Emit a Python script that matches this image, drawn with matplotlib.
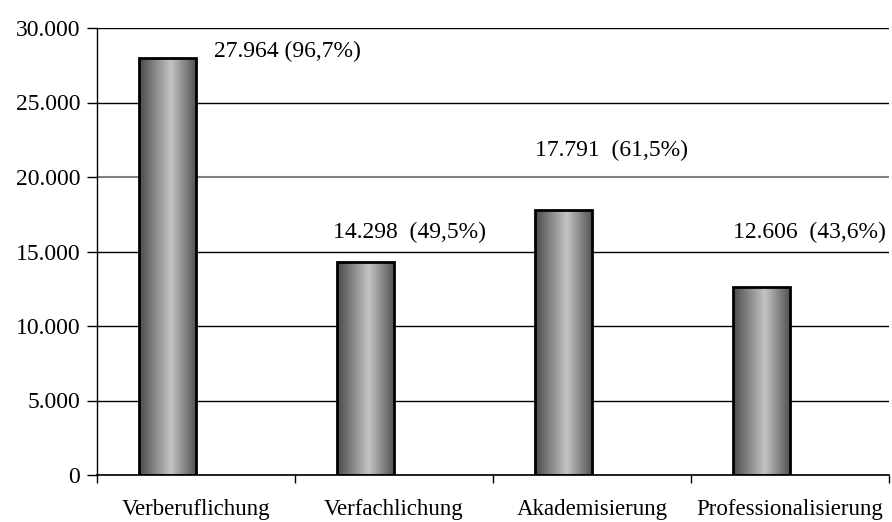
import numpy as np
import matplotlib
matplotlib.use('Agg')
import matplotlib.pyplot as plt
from matplotlib.colors import LinearSegmentedColormap
from matplotlib.ticker import FuncFormatter, FixedLocator

# data
categories = ['Verberuflichung', 'Verfachlichung', 'Akademisierung', 'Professionalisierung']
values = [27964, 14298, 17791, 12606]
label_texts = ['27.964 (96,7%)', '14.298  (49,5%)', '17.791  (61,5%)', '12.606  (43,6%)']
# label anchor positions (category units, data units)
label_x = [0.46, 1.08, 2.10, 3.10]
label_y = [28400, 16300, 21800, 16300]

plt.rcParams['font.family'] = ['Liberation Serif', 'DejaVu Serif']

fig = plt.figure(figsize=(8.92, 5.22), dpi=100)
ax = fig.add_axes([97 / 892, 1 - 475 / 522, (889 - 97) / 892, (475 - 28) / 522])

x = np.arange(len(categories))
width = 0.29
bars = ax.bar(x, values, width=width, align='edge', color='none',
              edgecolor='black', linewidth=2, zorder=3)
# bars sit in the left half of each group
for b in bars:
    b.set_x(b.get_x() - width)

# cylinder-like gradient fill
cyl = LinearSegmentedColormap.from_list(
    'cyl', [(0, '#4a4a4a'), (0.55, '#c4c4c4'), (1, '#4f4f4f')])
grad = np.linspace(0, 1, 256).reshape(1, -1)
for b in bars:
    x0, w, h = b.get_x(), b.get_width(), b.get_height()
    im = ax.imshow(grad, cmap=cyl, aspect='auto', extent=(x0, x0 + w, 0, h),
                   zorder=2, interpolation='bilinear')
    im.set_clip_path(b)

for t, lx, ly in zip(label_texts, label_x, label_y):
    ax.text(lx, ly, t, ha='center', va='center', fontsize=17)

ax.set_xlim(-0.5, len(categories) - 0.5)
ax.set_ylim(0, 30000)
ax.set_yticks(np.arange(0, 30001, 5000))
ax.yaxis.set_major_formatter(FuncFormatter(lambda v, p: f'{int(v):,}'.replace(',', '.')))
ax.yaxis.grid(True, color='black', linewidth=1)
ax.get_ygridlines()[4].set_color('#808080')
ax.get_ygridlines()[4].set_linewidth(1.5)
ax.set_axisbelow(True)

ax.set_xticks(x)
ax.set_xticklabels(categories)
ax.xaxis.set_minor_locator(FixedLocator(np.arange(-0.5, len(categories), 1)))
ax.tick_params(axis='x', which='major', length=0, pad=17, labelsize=16.5)
ax.tick_params(axis='x', which='minor', length=6, width=1)
ax.tick_params(axis='y', length=7, width=1, labelsize=17, pad=5)

for s in ['top', 'right']:
    ax.spines[s].set_visible(False)
ax.spines['left'].set_linewidth(1)
ax.spines['bottom'].set_linewidth(1.2)

fig.savefig('out.png', dpi=100, facecolor='white')
